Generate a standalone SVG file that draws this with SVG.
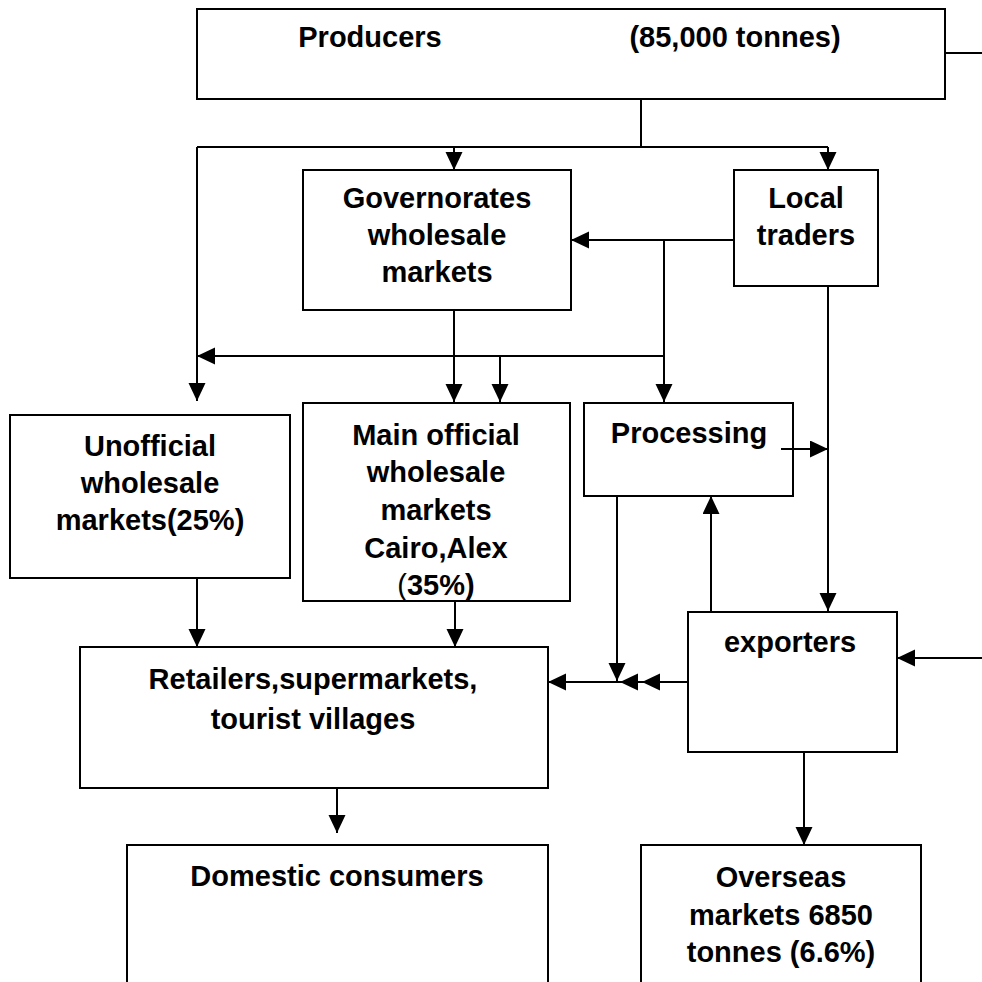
<svg xmlns="http://www.w3.org/2000/svg" width="982" height="982" viewBox="0 0 982 982">
<style>
.box{fill:#fff;stroke:#000;stroke-width:2}
.t{font-family:"Liberation Sans",Arial,sans-serif;font-weight:bold;font-size:29px;fill:#000;text-anchor:middle}
.c{fill:none;stroke:#000;stroke-width:2}
</style>
<defs>
<marker id="ah" markerUnits="userSpaceOnUse" markerWidth="18" markerHeight="18" refX="18" refY="8.5" orient="auto">
<path d="M0,0 L18,8.5 L0,17 z" fill="#000"/>
</marker>
</defs>
<rect width="982" height="982" fill="#fff"/>
<g id="producers">
<rect class="box" x="197" y="9" width="748" height="90"/>
<text class="t" x="370" y="47">Producers</text>
<text class="t" x="735" y="47">(85,000 tonnes)</text>
</g>
<g id="governorates">
<rect class="box" x="303" y="170" width="268" height="140"/>
<text class="t" x="437" y="208">Governorates</text>
<text class="t" x="437" y="245">wholesale</text>
<text class="t" x="437" y="282">markets</text>
</g>
<g id="localtraders">
<rect class="box" x="734" y="170" width="144" height="116"/>
<text class="t" x="806" y="208">Local</text>
<text class="t" x="806" y="245">traders</text>
</g>
<g id="unofficial">
<rect class="box" x="10" y="415" width="280" height="163"/>
<text class="t" x="150" y="456">Unofficial</text>
<text class="t" x="150" y="493">wholesale</text>
<text class="t" x="150" y="530">markets(25%)</text>
</g>
<g id="mainofficial">
<rect class="box" x="303" y="403" width="267" height="198"/>
<text class="t" x="436" y="445">Main official</text>
<text class="t" x="436" y="482">wholesale</text>
<text class="t" x="436" y="520">markets</text>
<text class="t" x="436" y="558">Cairo,Alex</text>
<text class="t" x="436" y="595"><tspan font-weight="normal">(</tspan>35%)</text>
</g>
<g id="processing">
<rect class="box" x="584" y="403" width="209" height="93"/>
<text class="t" x="689" y="443">Processing</text>
</g>
<g id="exporters">
<rect class="box" x="688" y="612" width="209" height="140"/>
<text class="t" x="790" y="652">exporters</text>
</g>
<g id="retailers">
<rect class="box" x="80" y="647" width="468" height="141"/>
<text class="t" x="313" y="689">Retailers,supermarkets,</text>
<text class="t" x="313" y="729">tourist villages</text>
</g>
<g id="domestic">
<rect class="box" x="127" y="845" width="421" height="150"/>
<text class="t" x="337" y="886">Domestic consumers</text>
</g>
<g id="overseas">
<rect class="box" x="641" y="845" width="280" height="150"/>
<text class="t" x="781" y="887">Overseas</text>
<text class="t" x="781" y="925">markets 6850</text>
<text class="t" x="781" y="962">tonnes (6.6%)</text>
</g>
<g id="connectors">
<path class="c" d="M945,53 H982"/>
<path class="c" d="M641,99 V147"/>
<path class="c" d="M197,147 H828"/>
<path class="c" d="M454,147 V170" marker-end="url(#ah)"/>
<path class="c" d="M828,147 V170" marker-end="url(#ah)"/>
<path class="c" d="M197,147 V401" marker-end="url(#ah)"/>
<path class="c" d="M734,240 H571" marker-end="url(#ah)"/>
<path class="c" d="M664,240 V402" marker-end="url(#ah)"/>
<path class="c" d="M664,356 H197" marker-end="url(#ah)"/>
<path class="c" d="M500,356 V402" marker-end="url(#ah)"/>
<path class="c" d="M454,310 V402" marker-end="url(#ah)"/>
<path class="c" d="M781,449 H828" marker-end="url(#ah)"/>
<path class="c" d="M828,286 V611" marker-end="url(#ah)"/>
<path class="c" d="M711,612 V496" marker-end="url(#ah)"/>
<path class="c" d="M982,658 H897" marker-end="url(#ah)"/>
<path class="c" d="M617,496 V681" marker-end="url(#ah)"/>
<path class="c" d="M688,682 H642" marker-end="url(#ah)"/>
<path class="c" d="M642,682 H620" marker-end="url(#ah)"/>
<path class="c" d="M620,682 H548" marker-end="url(#ah)"/>
<path class="c" d="M197,578 V647" marker-end="url(#ah)"/>
<path class="c" d="M455,601 V647" marker-end="url(#ah)"/>
<path class="c" d="M337,788 V833" marker-end="url(#ah)"/>
<path class="c" d="M804,752 V845" marker-end="url(#ah)"/>
</g>
</svg>
